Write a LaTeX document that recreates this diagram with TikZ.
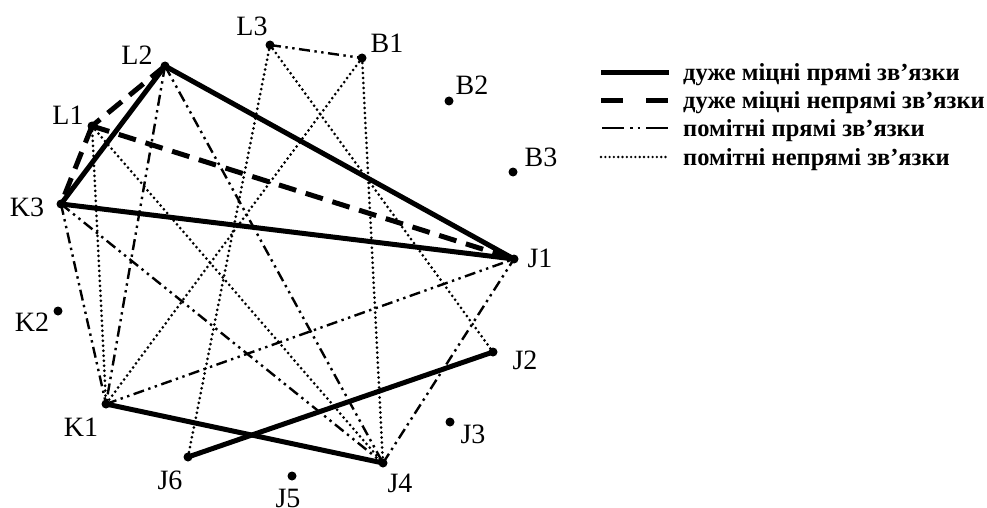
\documentclass[tikz,border=0pt]{standalone}
\usepackage{fontspec}
\setmainfont{Liberation Serif}
\begin{document}
\begin{tikzpicture}[x=1pt,y=-1pt,
  dot/.style={circle,fill=black,inner sep=0pt,minimum size=9pt},
  lbl/.style={inner sep=0pt,font=\fontsize{28}{30}\selectfont},
  strongdirect/.style={line width=5pt},
  strongindirect/.style={line width=5pt,dash pattern=on 18pt off 10pt},
  notdirect/.style={line width=2.4pt,dash pattern=on 11pt off 4.5pt on 2.4pt off 4.5pt on 2.4pt off 4.5pt},
  notindirect/.style={line width=3pt,line cap=round,dash pattern=on 0pt off 5pt},
  legtext/.style={anchor=base west,inner sep=0pt,font=\fontsize{24.5}{26}\selectfont\bfseries}]
\useasboundingbox (0,0) rectangle (987,508);
% nodes
\node[dot] (L3) at (270,45) {};
\node[dot] (B1) at (362,58) {};
\node[dot] (L2) at (165,66) {};
\node[dot] (B2) at (449,101) {};
\node[dot] (L1) at (92,126) {};
\node[dot] (B3) at (513,172) {};
\node[dot] (K3) at (61,204) {};
\node[dot] (J1) at (514,259) {};
\node[dot] (K2) at (58,311) {};
\node[dot] (J2) at (493,352) {};
\node[dot] (K1) at (106,404) {};
\node[dot] (J3) at (450,422) {};
\node[dot] (J6) at (188,457) {};
\node[dot] (J5) at (292,476) {};
\node[dot] (J4) at (383,463) {};
% labels
\node[lbl] (tL3) at (252,26) {L3};
\node[lbl] (tB1) at (387,43) {B1};
\node[lbl] (tL2) at (137,55) {L2};
\node[lbl] (tB2) at (472,85) {B2};
\node[lbl] (tL1) at (68,115) {L1};
\node[lbl] (tB3) at (541,157) {B3};
\node[lbl] (tK3) at (27,207) {K3};
\node[lbl] (tJ1) at (540,258) {J1};
\node[lbl] (tK2) at (32,322) {K2};
\node[lbl] (tJ2) at (525,360) {J2};
\node[lbl] (tK1) at (81,427) {K1};
\node[lbl] (tJ3) at (473,434) {J3};
\node[lbl] (tJ6) at (170,480) {J6};
\node[lbl] (tJ5) at (288,498) {J5};
\node[lbl] (tJ4) at (400,483) {J4};
% very strong direct
\draw[strongdirect] (L2.center) -- (J1.center);
\draw[strongdirect] (L2.center) -- (K3.center);
\draw[strongdirect] (K3.center) -- (J1.center);
\draw[strongdirect] (K1.center) -- (J4.center);
\draw[strongdirect] (J6.center) -- (J2.center);
% very strong indirect
\draw[strongindirect] (L2.center) -- (L1.center);
\draw[strongindirect] (L1.center) -- (K3.center);
\draw[strongindirect] (L1.center) -- (J1.center);
% noticeable direct
\draw[notdirect] (L3.center) -- (B1.center);
\draw[notdirect] (L2.center) -- (K1.center);
\draw[notdirect] (L2.center) -- (J4.center);
\draw[notdirect] (K3.center) -- (K1.center);
\draw[notdirect] (K3.center) -- (J4.center);
\draw[notdirect] (K1.center) -- (J1.center);
\draw[notdirect] (J4.center) -- (J1.center);
% noticeable indirect
\draw[notindirect] (L3.center) -- (J6.center);
\draw[notindirect] (L3.center) -- (J2.center);
\draw[notindirect] (B1.center) -- (K1.center);
\draw[notindirect] (B1.center) -- (J4.center);
\draw[notindirect] (L1.center) -- (K1.center);
\draw[notindirect] (L1.center) -- (J4.center);
% legend
\coordinate (a1) at (601,73); \coordinate (a2) at (669,73);
\coordinate (b1) at (601,101); \coordinate (b2) at (669,101);
\coordinate (c1) at (602,128); \coordinate (c2) at (669,128);
\coordinate (d1) at (601,157); \coordinate (d2) at (669,157);
\draw[strongdirect] (a1) -- (a2);
\draw[line width=5pt,dash pattern=on 22pt off 23pt] (b1) -- (b2);
\draw[line width=2.4pt,dash pattern=on 22pt off 6pt on 2.5pt off 5pt on 2.5pt off 6pt] (c1) -- (c2);
\draw[notindirect,line width=2.6pt,dash pattern=on 0pt off 4.3pt] (d1) -- (d2);
\node[legtext] (la) at (683,81) {дуже міцні прямі зв’язки};
\node[legtext] (lb) at (683,109) {дуже міцні непрямі зв’язки};
\node[legtext] (lc) at (683,136) {помітні прямі зв’язки};
\node[legtext] (ld) at (683,165) {помітні непрямі зв’язки};
\end{tikzpicture}
\end{document}
